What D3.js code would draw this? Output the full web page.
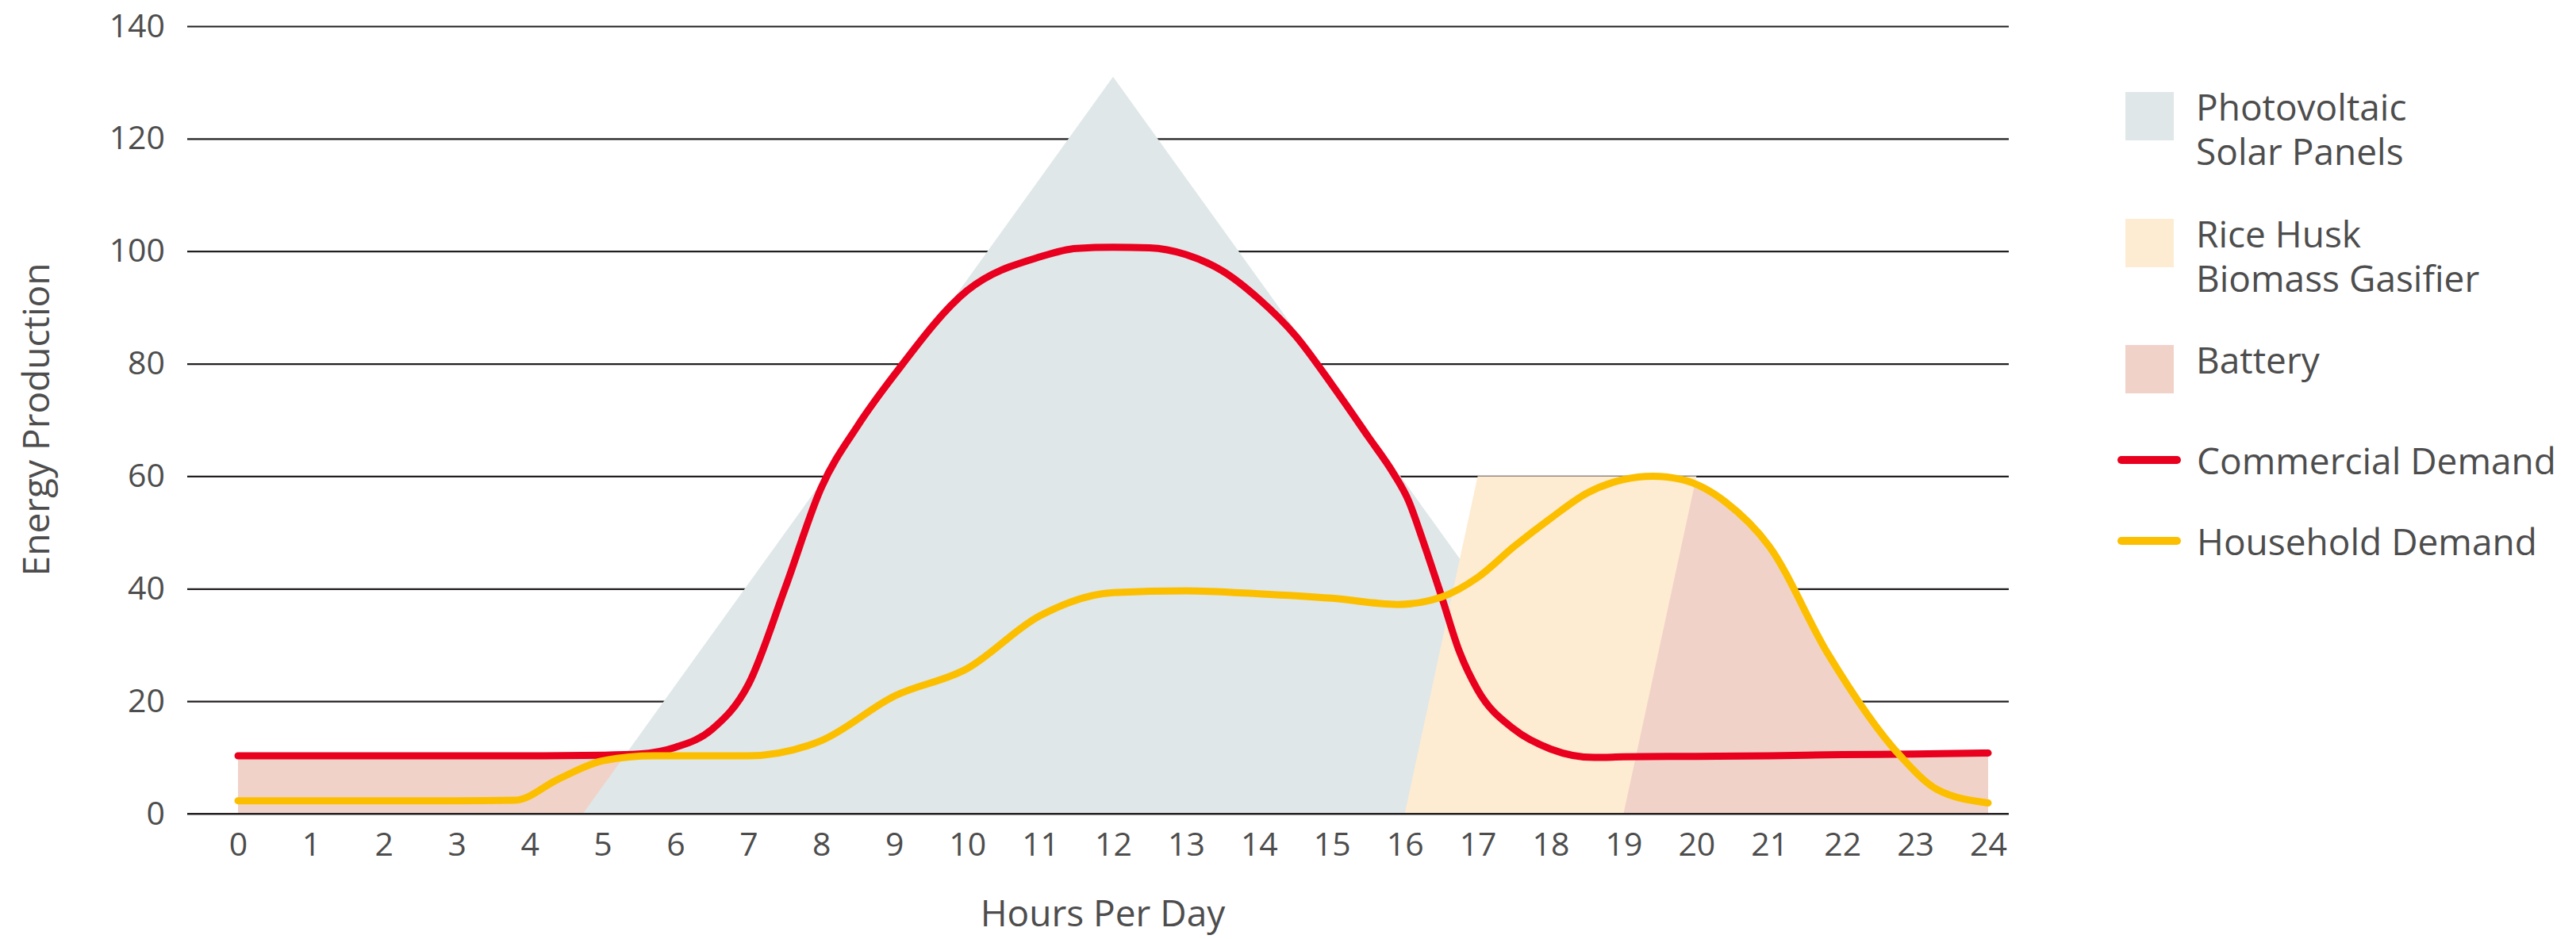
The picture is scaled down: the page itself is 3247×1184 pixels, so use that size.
<html>
<head>
<meta charset="utf-8">
<script src="https://d3js.org/d3.v7.min.js"></script>
<style>
  body { margin: 0; background: white; }
  text { font-family: "Open Sans", sans-serif; fill: #4d4d4d; }
  .y.axis line { stroke: #231f20; stroke-width: 2.2; }
  .axis path.domain { display: none; }
</style>
</head>
<body>
<div id="chart"></div>
<script>
// hours of the day (x axis ticks)
var hourTicks = d3.range(0, 25);
var energyTicks = [0, 20, 40, 60, 80, 100, 120, 140];

// commercial demand (red line)
var commercialHours  = [0, 1, 2, 3, 4, 5, 5.5, 6, 6.5, 7, 7.5, 8, 8.5, 9, 10, 11, 11.5, 12, 12.5, 13, 13.5, 14, 14.5, 15, 15.5, 15.85, 16.05, 16.25, 16.5, 16.75, 17, 17.5, 18, 18.6, 19, 20, 21, 22, 23, 24];
var commercialValues = [10.3, 10.3, 10.3, 10.3, 10.3, 10.4, 10.6, 11.8, 15, 23, 40, 58, 69, 78, 93, 99, 100.5, 100.7, 100.6, 99.4, 96.5, 91.5, 85, 76.3, 67, 60.4, 55.7, 48.5, 38.8, 28.8, 22, 15, 11.5, 10, 10.1, 10.2, 10.3, 10.5, 10.6, 10.8];

// household demand (yellow line)
var householdHours  = [0, 1, 2, 3, 3.8, 4.4, 5, 5.7, 6, 7, 8, 9, 10, 11, 12, 13, 14, 15, 15.9, 16.5, 17, 17.5, 18, 18.5, 19, 19.4, 19.8, 20.4, 21, 21.8, 22.8, 23.3, 24];
var householdValues = [2.3, 2.3, 2.3, 2.3, 2.4, 6.2, 9.4, 10.3, 10.3, 10.3, 13, 20.9, 25.8, 35.2, 39.3, 39.6, 39.1, 38.3, 37.2, 38.5, 42, 47.5, 52.5, 57, 59.4, 60, 59.4, 55.4, 47.5, 28.5, 10.2, 4.3, 1.9];

// photovoltaic production (triangle)
var pvHours  = [4.73, 12, 19.27];
var pvValues = [0, 131, 0];

// rice husk biomass gasifier (parallelogram)
var biomassHours  = [16, 17, 20, 19];
var biomassValues = [0, 60, 60, 0];

// battery windows (hours)
var batteryMorning = [0, 5.3];
var batteryEvening = [19, 24];

var legendItems = [
  {type: "box",  color: "#dfe7e9", lines: ["Photovoltaic", "Solar Panels"]},
  {type: "box",  color: "#fdecd2", lines: ["Rice Husk", "Biomass Gasifier"]},
  {type: "box",  color: "#f1d2c8", lines: ["Battery"]},
  {type: "line", color: "#e8001e", lines: ["Commercial Demand"]},
  {type: "line", color: "#fcbf00", lines: ["Household Demand"]}
];

var W = 3247, H = 1184;
var gridLeft = 236, gridRight = 2532;

var svg = d3.select("#chart").append("svg")
  .attr("width", W).attr("height", H);

var x = d3.scaleLinear().domain([0, 24]).range([300, 2506]);
var y = d3.scaleLinear().domain([0, 140]).range([1026, 33]);

function pts(hs, vs) { return hs.map(function(h, i) { return [h, vs[i]]; }); }

var commercial = pts(commercialHours, commercialValues);
var household = pts(householdHours, householdValues);

// clip regions for the battery fills
var defs = svg.append("defs");
defs.append("clipPath").attr("id", "clipMorning").append("rect")
  .attr("x", x(batteryMorning[0])).attr("y", 0)
  .attr("width", x(batteryMorning[1]) - x(batteryMorning[0])).attr("height", H);
defs.append("clipPath").attr("id", "clipEvening").append("rect")
  .attr("x", x(batteryEvening[0])).attr("y", 0)
  .attr("width", x(batteryEvening[1]) - x(batteryEvening[0])).attr("height", H);

// Y axis with gridlines
svg.append("g")
  .attr("class", "y axis")
  .attr("transform", "translate(" + gridLeft + ",0)")
  .call(d3.axisLeft(y).tickValues(energyTicks).tickSize(-(gridRight - gridLeft)).tickPadding(28))
  .selectAll("text")
    .style("font-size", "41px")
    .style("font-family", "'Open Sans', sans-serif")
    .attr("fill", "#4d4d4d");

var area = d3.area()
  .x(function(d) { return x(d[0]); })
  .y0(y(0))
  .y1(function(d) { return y(d[1]); })
  .curve(d3.curveMonotoneX);

var poly = d3.line()
  .x(function(d) { return x(d[0]); })
  .y(function(d) { return y(d[1]); });

// battery, morning
svg.append("path").datum(commercial)
  .attr("d", area).attr("fill", "#f1d2c8")
  .attr("clip-path", "url(#clipMorning)");

// photovoltaic
svg.append("path").datum(pts(pvHours, pvValues))
  .attr("d", function(d) { return poly(d) + "Z"; })
  .attr("fill", "#dfe7e9");

// battery, evening (under both demand curves)
svg.append("path").datum(commercial)
  .attr("d", area).attr("fill", "#f1d2c8")
  .attr("clip-path", "url(#clipEvening)");
svg.append("path").datum(household)
  .attr("d", area).attr("fill", "#f1d2c8")
  .attr("clip-path", "url(#clipEvening)");

// biomass
svg.append("path").datum(pts(biomassHours, biomassValues))
  .attr("d", function(d) { return poly(d) + "Z"; })
  .attr("fill", "#fdecd2");

// baseline on top of the fills
svg.append("line")
  .attr("x1", gridLeft).attr("x2", gridRight)
  .attr("y1", y(0)).attr("y2", y(0))
  .attr("stroke", "#231f20").attr("stroke-width", 2.2);

var line = d3.line()
  .x(function(d) { return x(d[0]); })
  .y(function(d) { return y(d[1]); })
  .curve(d3.curveMonotoneX);

svg.append("path").datum(commercial)
  .attr("d", line).attr("fill", "none")
  .attr("stroke", "#e8001e").attr("stroke-width", 9)
  .attr("stroke-linecap", "round").attr("stroke-linejoin", "round");

svg.append("path").datum(household)
  .attr("d", line).attr("fill", "none")
  .attr("stroke", "#fcbf00").attr("stroke-width", 9)
  .attr("stroke-linecap", "round").attr("stroke-linejoin", "round");

// X axis labels
svg.append("g")
  .attr("class", "x axis")
  .attr("transform", "translate(0," + y(0) + ")")
  .call(d3.axisBottom(x).tickValues(hourTicks).tickSize(0).tickPadding(24))
  .selectAll("text")
    .style("font-size", "41px")
    .style("font-family", "'Open Sans', sans-serif")
    .attr("fill", "#4d4d4d");

// axis titles
svg.append("text")
  .attr("x", 1390).attr("y", 1168)
  .style("text-anchor", "middle")
  .style("font-size", "46px")
  .text("Hours Per Day");

svg.append("text")
  .attr("transform", "translate(62,529) rotate(-90)")
  .style("text-anchor", "middle")
  .style("font-size", "46px")
  .text("Energy Production");

// legend
var legendTop = [116, 276, 435, 580, 682];
legendItems.forEach(function(item, i) {
  var g = svg.append("g");
  if (item.type === "box") {
    g.append("rect")
      .attr("x", 2679).attr("y", legendTop[i])
      .attr("width", 61).attr("height", 61)
      .attr("fill", item.color);
    item.lines.forEach(function(t, j) {
      g.append("text")
        .attr("x", 2768).attr("y", legendTop[i] + 36 + j * 56)
        .style("font-size", "46px")
        .text(t);
    });
  } else {
    g.append("line")
      .attr("x1", 2674).attr("x2", 2744)
      .attr("y1", legendTop[i]).attr("y2", legendTop[i])
      .attr("stroke", item.color).attr("stroke-width", 10)
      .attr("stroke-linecap", "round");
    g.append("text")
      .attr("x", 2769).attr("y", legendTop[i] + 18)
      .style("font-size", "46px")
      .text(item.lines[0]);
  }
});
</script>
</body>
</html>
